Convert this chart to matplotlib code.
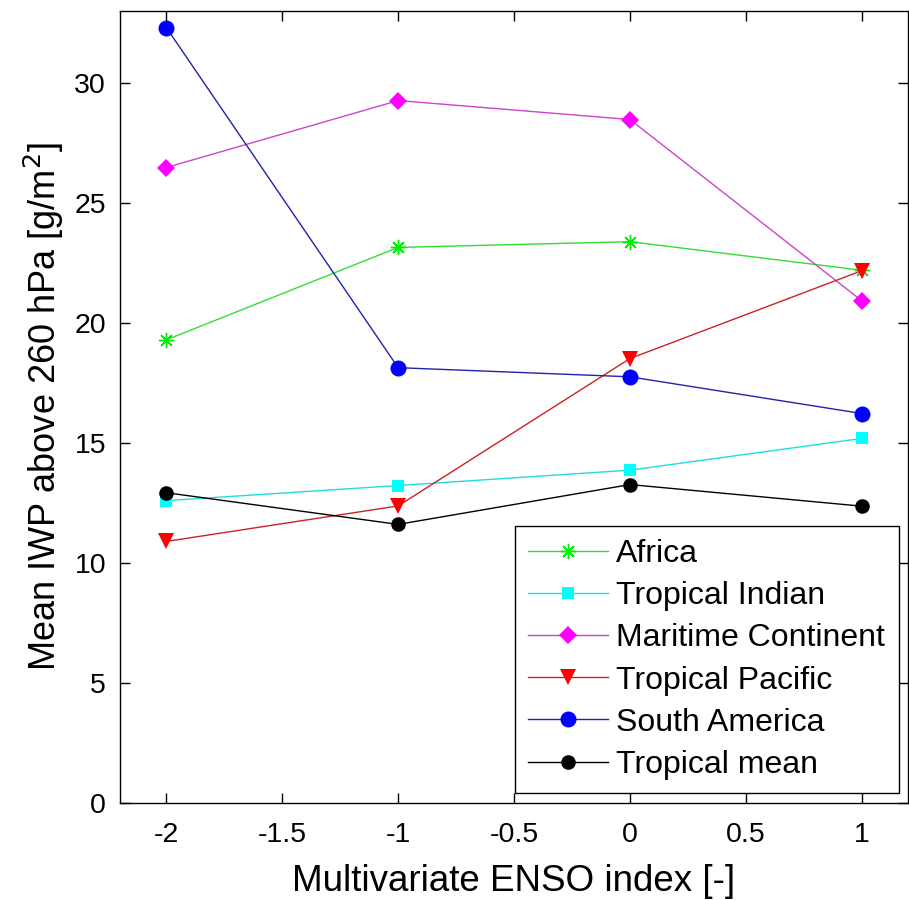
import matplotlib
matplotlib.use("Agg")
import matplotlib.pyplot as plt

plt.rcParams['font.family'] = ['Liberation Sans', 'DejaVu Sans']

enso = [-2, -1, 0, 1]
africa = [19.29, 23.14, 23.38, 22.19]
trop_indian = [12.59, 13.22, 13.86, 15.18]
maritime = [26.47, 29.26, 28.47, 20.92]
trop_pacific = [10.89, 12.37, 18.51, 22.17]
south_america = [32.3, 18.13, 17.75, 16.22]
trop_mean = [12.92, 11.6, 13.26, 12.36]

xticks = [-2, -1.5, -1, -0.5, 0, 0.5, 1]
xticklabels = ['-2', '-1.5', '-1', '-0.5', '0', '0.5', '1']
yticks = [0, 5, 10, 15, 20, 25, 30]

fig = plt.figure(figsize=(9.09, 9.0), dpi=100)
ax = fig.add_axes([0.132, 0.108, 0.867, 0.880])

series = [
    ("Africa", africa, '#00ee00', '#33dd33', (8, 2, 0), 11, 1.0),
    ("Tropical Indian", trop_indian, '#00ffff', '#22dddd', 's', 9, 1.0),
    ("Maritime Continent", maritime, '#ff00ff', '#cc44cc', 'D', 9, 1.0),
    ("Tropical Pacific", trop_pacific, '#ff0000', '#cc2222', 'v', 11, 1.0),
    ("South America", south_america, '#0000ff', '#2222aa', 'o', 11.5, 1.0),
    ("Tropical mean", trop_mean, '#000000', '#000000', 'o', 10.5, 1.0),
]

handles = []
for name, vals, mc, lc, mk, ms, lw in series:
    mew = 1.0 if mk == (8, 2, 0) else 0
    h, = ax.plot(enso, vals, color=lc, lw=lw, marker=mk, ms=ms,
                 markeredgecolor=mc, markerfacecolor=mc, markeredgewidth=mew, label=name)
    handles.append(h)

ax.set_xlim(-2.2, 1.2)
ax.set_ylim(0, 33)
ax.set_xticks(xticks)
ax.set_xticklabels(xticklabels)
ax.set_yticks(yticks)
ax.tick_params(direction='in', length=7, width=1, labelsize=20.5, top=True, right=True)
ax.tick_params(axis='x', pad=14)
ax.tick_params(axis='y', pad=10)
for s in ax.spines.values():
    s.set_linewidth(1)

ax.set_xlabel('Multivariate ENSO index [-]', fontsize=26.5, labelpad=11)
ax.set_ylabel('Mean IWP above 260 hPa [g/m$^2$]', fontsize=26, labelpad=6)

leg = ax.legend(handles=handles, loc='lower right', fontsize=23, frameon=True,
                fancybox=False, edgecolor='black', framealpha=1, handlelength=2.5,
                borderpad=0.42, labelspacing=0.38, handletextpad=0.25,
                bbox_to_anchor=(1.0, 0.0), borderaxespad=0.3)
leg.get_frame().set_linewidth(1)

fig.savefig('out.png', dpi=100)
